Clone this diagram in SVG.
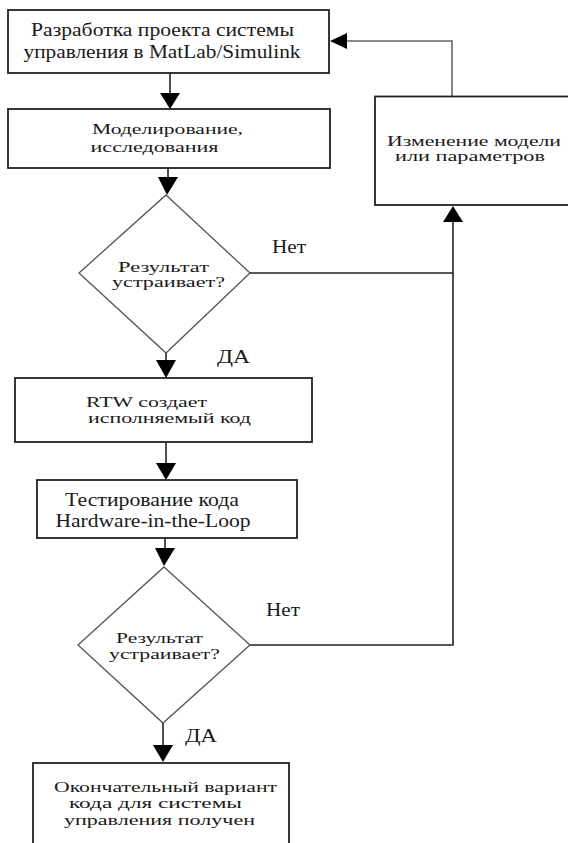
<svg xmlns="http://www.w3.org/2000/svg" width="568" height="843" viewBox="0 0 568 843">
<style>
.box{fill:#fff;stroke:#222;stroke-width:1.8}
.dia{fill:#fff;stroke:#555;stroke-width:1.3}
.ln{fill:none;stroke:#222;stroke-width:1.6}
.ln2{fill:none;stroke:#666;stroke-width:1.6}
text{font-family:"Liberation Serif","Times New Roman",serif;font-size:18px;fill:#1a1a1a}
.t{font-size:15px}
.ah{fill:#000}
</style>
<rect x="0" y="0" width="568" height="843" fill="#fff"/>
<g id="connectors">
<line class="ln" x1="170" y1="73" x2="170" y2="95"/>
<polygon class="ah" points="160,93 180,93 170,109"/>
<line class="ln" x1="168" y1="168" x2="168" y2="180"/>
<polygon class="ah" points="158,177 178,177 167,195"/>
<line class="ln" x1="166" y1="353" x2="166" y2="362"/>
<polygon class="ah" points="156,360 176,360 166,378"/>
<polyline class="ln" points="250,273 453,273 453,220"/>
<polygon class="ah" points="443,222 463,222 453,206"/>
<line class="ln" x1="166" y1="442" x2="166" y2="465"/>
<polygon class="ah" points="156,463 176,463 166,480"/>
<line class="ln" x1="165" y1="538" x2="165" y2="550"/>
<polygon class="ah" points="155,548 175,548 164,566"/>
<line class="ln" x1="163" y1="723" x2="163" y2="747"/>
<polygon class="ah" points="153,745 173,745 163,762"/>
<polyline class="ln" points="250,645 453,645 453,273"/>
<polyline class="ln2" points="452,96 452,41 345,41"/>
<polygon class="ah" points="347,33 347,49 330,41"/>
</g>
<g id="n1">
<rect class="box" x="8" y="10" width="321" height="63"/>
<text x="31" y="36" textLength="263" lengthAdjust="spacingAndGlyphs">Разработка проекта системы</text>
<text x="23.5" y="58" textLength="277" lengthAdjust="spacingAndGlyphs">управления в MatLab/Simulink</text>
</g>
<g id="n2">
<rect class="box" x="8" y="109" width="322" height="59"/>
<text class="t" x="92" y="134" textLength="151" lengthAdjust="spacingAndGlyphs">Моделирование,</text>
<text class="t" x="90.5" y="152" textLength="128" lengthAdjust="spacingAndGlyphs">исследования</text>
</g>
<g id="n3">
<rect class="box" x="375" y="96.5" width="200" height="108.5"/>
<text class="t" x="387" y="146" textLength="174" lengthAdjust="spacingAndGlyphs">Изменение модели</text>
<text class="t" x="395" y="161" textLength="150" lengthAdjust="spacingAndGlyphs">или  параметров</text>
</g>
<g id="d1">
<polygon class="dia" points="166,195 250,273 166,353 79,273"/>
<text class="t" x="118" y="272" textLength="91" lengthAdjust="spacingAndGlyphs">Результат</text>
<text class="t" x="112" y="287" textLength="113" lengthAdjust="spacingAndGlyphs">устраивает?</text>
</g>
<g id="l1">
<text x="272" y="253" textLength="34" lengthAdjust="spacingAndGlyphs">Нет</text>
<text x="217" y="363" textLength="33" lengthAdjust="spacingAndGlyphs">ДА</text>
</g>
<g id="n4">
<rect class="box" x="15" y="378" width="297" height="64"/>
<text class="t" x="86" y="407" textLength="121" lengthAdjust="spacingAndGlyphs">RTW создает</text>
<text class="t" x="88" y="423" textLength="163" lengthAdjust="spacingAndGlyphs">исполняемый код</text>
</g>
<g id="n5">
<rect class="box" x="37" y="480" width="260" height="58"/>
<text x="65" y="505.5" textLength="174" lengthAdjust="spacingAndGlyphs">Тестирование кода</text>
<text x="55.5" y="527" textLength="195" lengthAdjust="spacingAndGlyphs">Hardware-in-the-Loop</text>
</g>
<g id="d2">
<polygon class="dia" points="164,567 250,645 163,723 78,645"/>
<text class="t" x="116" y="643" textLength="87" lengthAdjust="spacingAndGlyphs">Результат</text>
<text class="t" x="109" y="659" textLength="111" lengthAdjust="spacingAndGlyphs">устраивает?</text>
</g>
<g id="l2">
<text x="266" y="616" textLength="34" lengthAdjust="spacingAndGlyphs">Нет</text>
<text x="185" y="742" textLength="32" lengthAdjust="spacingAndGlyphs">ДА</text>
</g>
<g id="n6">
<rect class="box" x="33" y="763" width="256" height="90"/>
<text class="t" x="54" y="792" textLength="223" lengthAdjust="spacingAndGlyphs">Окончательный вариант</text>
<text class="t" x="69" y="808" textLength="173" lengthAdjust="spacingAndGlyphs">кода для системы</text>
<text class="t" x="64" y="825" textLength="191" lengthAdjust="spacingAndGlyphs">управления получен</text>
</g>
</svg>
